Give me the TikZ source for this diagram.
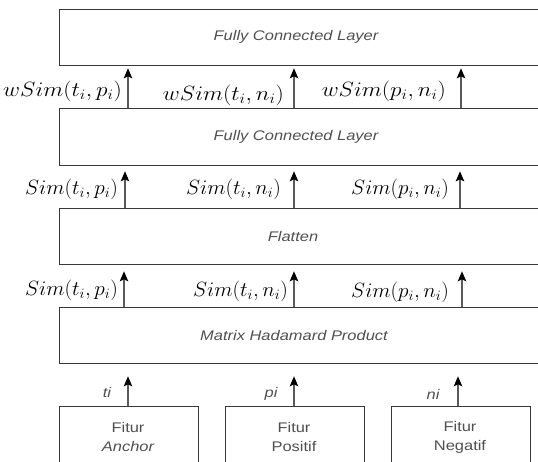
\documentclass[tikz,border=0pt]{standalone}
\usepackage{fontspec}
\usepackage{graphicx}
\newfontfamily\boxfont[FakeStretch=1.18]{Liberation Sans}
\usetikzlibrary{arrows.meta}
\definecolor{edge}{HTML}{383838}
\definecolor{shaft}{HTML}{5A5A5A}
\definecolor{txt}{HTML}{505050}
\tikzset{
  layer/.style={draw=edge, line width=1.3bp, rectangle, inner sep=0pt, anchor=north west},
  layertext/.style={text=txt, font=\boxfont\itshape\fontsize{14}{16}\selectfont, inner sep=0pt},
  inbox/.style={draw=edge, line width=1.3bp, rectangle, inner sep=0pt, anchor=north west,
    minimum width=139bp, minimum height=80bp},
  intext/.style={text=txt, font=\boxfont\fontsize{14}{19}\selectfont, align=center, inner sep=0pt},
  flow/.style={draw=shaft, line width=1.3bp, -{Stealth[length=10bp,width=8.5bp,inset=2bp,color=black]}},
  simlabel/.style={anchor=east, inner sep=0pt, font=\fontsize{19.5}{22}\selectfont},
  inlabel/.style={text=txt, font=\boxfont\itshape\fontsize{14}{16}\selectfont, inner sep=0pt}
}
% horizontally widened formula
\newcommand{\wide}[2][1.03]{\scalebox{#1}[1]{$#2$}}
\begin{document}
\begin{tikzpicture}[x=1bp, y=-1bp]
\useasboundingbox (0,0) rectangle (538,462);
\clip (0,0) rectangle (538,462);
\fill[white] (0,0) rectangle (538,462);

% stacked layers
\node[layer, minimum width=560bp, minimum height=56bp] (fc2) at (59,9) {};
\node[layer, minimum width=560bp, minimum height=57bp] (fc1) at (59,108) {};
\node[layer, minimum width=560bp, minimum height=56bp] (flat) at (59,208) {};
\node[layer, minimum width=560bp, minimum height=56bp] (had) at (59,307) {};

\node[layertext] (fc2t) at (296,37) {Fully Connected Layer};
\node[layertext] (fc1t) at (296,137) {Fully Connected Layer};
\node[layertext] (flatt) at (293,237) {Flatten};
\node[layertext] (hadt) at (294,336) {Matrix Hadamard Product};

% input feature boxes
\node[inbox] (anc) at (59,406) {};
\node[inbox] (pos) at (225,406) {};
\node[inbox] (neg) at (391,406) {};
\node[intext] (anct) at (128,437) {Fitur\\\itshape Anchor};
\node[intext] (post) at (294,437) {Fitur\\Positif};
\node[intext] (negt) at (460,437) {Fitur\\Negatif};

% arrow columns
\coordinate (c1) at (128,0);
\coordinate (c2) at (294,0);
\coordinate (c3) at (461,0);

% inputs into the Hadamard product
\draw[flow, shorten >=12bp] (anc.north -| c1) -- (had.south -| c1);
\draw[flow, shorten >=12bp] (pos.north -| c2) -- (had.south -| c2);
\draw[flow, shorten >=12bp] (neg.north -| 458,0) -- (had.south -| 458,0);
\node[inlabel] (lt) at (107,393) {ti};
\node[inlabel] (lp) at (271,394) {pi};
\node[inlabel] (ln) at (433,394) {ni};

% Hadamard product to flatten
\draw[flow, shorten >=6bp] (had.north -| 124,0) -- (flat.south -| 124,0);
\draw[flow, shorten >=6bp] (had.north -| c2) -- (flat.south -| c2);
\draw[flow, shorten >=6bp] (had.north -| 462,0) -- (flat.south -| 462,0);
\node[simlabel] (s31) at (118,290) {\wide{Sim(t_i,p_i)}};
\node[simlabel] (s32) at (288,291.5) {\wide{Sim(t_i,n_i)}};
\node[simlabel] (s33) at (449,292.5) {\wide{Sim(p_i,n_i)}};

% flatten to first dense layer
\draw[flow, shorten >=5bp] (flat.north -| 125,0) -- (fc1.south -| 125,0);
\draw[flow, shorten >=5bp] (flat.north -| c2) -- (fc1.south -| c2);
\draw[flow, shorten >=5bp] (flat.north -| 460,0) -- (fc1.south -| 460,0);
\node[simlabel] (s21) at (118,189) {\wide{Sim(t_i,p_i)}};
\node[simlabel] (s22) at (281,189) {\wide{Sim(t_i,n_i)}};
\node[simlabel] (s23) at (449,189) {\wide{Sim(p_i,n_i)}};

% first dense layer to second dense layer
\draw[flow, shorten >=2bp] (fc1.north -| c1) -- (fc2.south -| c1);
\draw[flow, shorten >=2bp] (fc1.north -| c2) -- (fc2.south -| c2);
\draw[flow, shorten >=2bp] (fc1.north -| c3) -- (fc2.south -| c3);
\node[simlabel] (s11) at (122,91.5) {\wide[1.13]{wSim(t_i,p_i)}};
\node[simlabel] (s12) at (284,95.5) {\wide[1.13]{wSim(t_i,n_i)}};
\node[simlabel] (s13) at (446,91.5) {\wide[1.13]{wSim(p_i,n_i)}};
\end{tikzpicture}
\end{document}
